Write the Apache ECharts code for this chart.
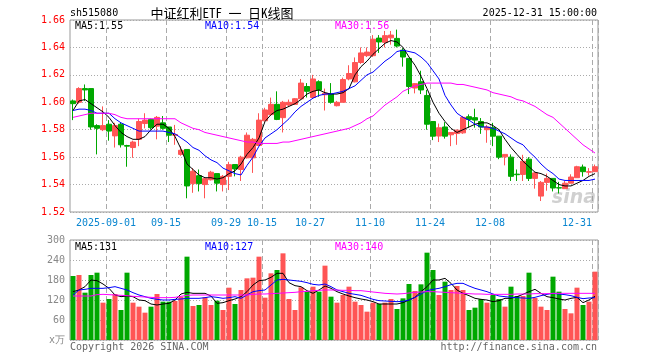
<!DOCTYPE html>
<html><head><meta charset="utf-8">
<script src="https://cdn.jsdelivr.net/npm/echarts@6/dist/echarts.min.js"></script>
<style>html,body{margin:0;padding:0;background:#fff}#c{width:660px;height:360px}</style>
</head><body><div id="c"></div>
<script>
const dates = ['2025-08-22','2025-08-25','2025-08-26','2025-08-27','2025-08-28','2025-08-29',
'2025-09-01','2025-09-02','2025-09-03','2025-09-04','2025-09-05','2025-09-08','2025-09-09','2025-09-10','2025-09-11','2025-09-12',
'2025-09-15','2025-09-16','2025-09-17','2025-09-18','2025-09-19','2025-09-22','2025-09-23','2025-09-24','2025-09-25','2025-09-26',
'2025-09-29','2025-09-30','2025-10-09','2025-10-10','2025-10-13','2025-10-14','2025-10-15','2025-10-16','2025-10-17',
'2025-10-20','2025-10-21','2025-10-22','2025-10-23','2025-10-24','2025-10-27','2025-10-28','2025-10-29','2025-10-30','2025-10-31',
'2025-11-03','2025-11-04','2025-11-05','2025-11-06','2025-11-07','2025-11-10','2025-11-11','2025-11-12','2025-11-13','2025-11-14',
'2025-11-17','2025-11-18','2025-11-19','2025-11-20','2025-11-21','2025-11-24','2025-11-25','2025-11-26','2025-11-27','2025-11-28',
'2025-12-01','2025-12-02','2025-12-03','2025-12-04','2025-12-05','2025-12-08','2025-12-09','2025-12-10','2025-12-11','2025-12-12',
'2025-12-15','2025-12-16','2025-12-17','2025-12-18','2025-12-19','2025-12-22','2025-12-23','2025-12-24','2025-12-25','2025-12-26',
'2025-12-29','2025-12-30','2025-12-31'];

const openP = [1.601,1.600,1.610,1.610,1.583,1.580,1.584,1.5755,1.584,1.5685,
1.567,1.573,1.5845,1.5875,1.5826,1.585,1.582,1.576,1.562,1.5656,
1.5407,1.5465,1.540,1.5435,1.548,1.540,1.546,1.5546,1.551,1.5595,
1.5595,1.5685,1.5865,1.591,1.5985,1.5888,1.598,1.5985,1.6025,1.6115,
1.6035,1.615,1.6055,1.606,1.5975,1.600,1.617,1.6149,1.629,1.634,
1.634,1.6468,1.6437,1.647,1.6466,1.638,1.632,1.6104,1.615,1.605,
1.586,1.5754,1.582,1.5763,1.5772,1.5777,1.5895,1.5888,1.586,1.580,
1.5815,1.5753,1.5602,1.560,1.5476,1.5474,1.5585,1.5445,1.5316,1.5416,
1.5445,1.5377,1.537,1.541,1.545,1.5528,1.549,1.5494];
const closeP = [1.599,1.610,1.609,1.582,1.581,1.583,1.579,1.583,1.569,1.568,
1.571,1.586,1.587,1.5815,1.589,1.581,1.576,1.5765,1.565,1.539,
1.5497,1.5407,1.5443,1.549,1.541,1.546,1.5545,1.5514,1.560,1.576,
1.573,1.587,1.5944,1.5985,1.5875,1.600,1.600,1.6026,1.614,1.608,
1.617,1.609,1.6066,1.600,1.600,1.6166,1.621,1.629,1.636,1.6366,
1.646,1.644,1.6486,1.649,1.641,1.633,1.6115,1.6136,1.609,1.584,
1.5753,1.5814,1.5753,1.578,1.5797,1.589,1.5875,1.587,1.582,1.582,
1.5753,1.560,1.562,1.546,1.5472,1.557,1.5445,1.5485,1.5416,1.5445,
1.5375,1.5375,1.541,1.5455,1.553,1.5494,1.5494,1.553];
const lowP = [1.587,1.599,1.601,1.580,1.562,1.579,1.572,1.567,1.567,1.553,
1.5595,1.568,1.581,1.580,1.573,1.580,1.571,1.569,1.561,1.530,
1.534,1.535,1.530,1.543,1.535,1.535,1.536,1.546,1.5426,1.559,
1.5485,1.568,1.586,1.590,1.587,1.578,1.597,1.598,1.602,1.6035,
1.603,1.604,1.594,1.599,1.597,1.600,1.616,1.6145,1.628,1.633,
1.633,1.636,1.640,1.642,1.640,1.626,1.606,1.6065,1.606,1.580,
1.5724,1.571,1.5735,1.568,1.569,1.577,1.5815,1.5815,1.577,1.5705,
1.568,1.5585,1.554,1.5426,1.5426,1.5426,1.5426,1.537,1.528,1.5355,
1.535,1.5335,1.537,1.541,1.545,1.5458,1.5466,1.5494];
const highP = [1.602,1.611,1.613,1.610,1.584,1.597,1.587,1.585,1.585,1.569,
1.572,1.588,1.592,1.588,1.590,1.590,1.582,1.5835,1.568,1.5656,
1.552,1.551,1.545,1.550,1.548,1.547,1.5566,1.5546,1.561,1.578,
1.574,1.592,1.596,1.6034,1.608,1.601,1.602,1.603,1.617,1.614,
1.620,1.616,1.610,1.614,1.601,1.618,1.627,1.6327,1.640,1.640,
1.649,1.649,1.652,1.652,1.653,1.6395,1.632,1.614,1.623,1.609,
1.586,1.5845,1.5855,1.578,1.580,1.590,1.5912,1.5953,1.5885,1.5835,
1.585,1.5753,1.562,1.562,1.551,1.5617,1.560,1.549,1.5426,1.548,
1.5445,1.542,1.5426,1.5475,1.5537,1.5546,1.552,1.5546];

const ma5 = [1.594,1.601,1.602,1.599,1.596,1.593,1.589,1.583,1.578,1.575,
1.573,1.573,1.575,1.580,1.584,1.584,1.581,1.575,1.566,1.555,
1.551,1.547,1.545,1.545,1.544,1.545,1.548,1.550,1.555,1.562,
1.567,1.574,1.586,1.591,1.594,1.595,1.597,1.599,1.602,1.606,
1.608,1.609,1.607,1.606,1.606,1.607,1.610,1.620,1.626,1.630,
1.635,1.639,1.643,1.645,1.644,1.640,1.633,1.627,1.619,1.610,
1.600,1.592,1.586,1.581,1.578,1.580,1.582,1.584,1.585,1.585,
1.583,1.580,1.573,1.567,1.562,1.557,1.553,1.549,1.548,1.546,
1.543,1.540,1.539,1.539,1.541,1.543,1.546,1.548];
const ma10 = [1.594,1.595,1.595,1.594,1.592,1.592,1.592,1.588,1.585,1.583,
1.581,1.579,1.579,1.579,1.579,1.579,1.578,1.577,1.574,1.571,
1.567,1.565,1.561,1.558,1.556,1.552,1.550,1.548,1.547,1.554,
1.560,1.568,1.574,1.577,1.580,1.584,1.588,1.593,1.597,1.600,
1.603,1.605,1.606,1.606,1.607,1.608,1.610,1.612,1.616,1.620,
1.622,1.626,1.630,1.633,1.637,1.638,1.637,1.636,1.633,1.629,
1.623,1.617,1.605,1.598,1.592,1.589,1.587,1.584,1.582,1.582,
1.581,1.579,1.577,1.574,1.571,1.569,1.564,1.560,1.555,1.551,
1.548,1.544,1.543,1.543,1.543,1.543,1.543,1.544];
const ma30 = [1.589,1.590,1.591,1.592,1.592,1.592,1.592,1.591,1.589,1.588,
1.588,1.588,1.588,1.588,1.588,1.588,1.588,1.588,1.585,1.583,
1.581,1.580,1.578,1.577,1.576,1.575,1.574,1.573,1.572,1.571,
1.571,1.570,1.570,1.570,1.570,1.571,1.571,1.572,1.573,1.574,
1.575,1.576,1.577,1.578,1.579,1.580,1.581,1.583,1.585,1.588,
1.590,1.594,1.598,1.601,1.604,1.608,1.610,1.612,1.613,1.614,
1.614,1.614,1.614,1.614,1.613,1.613,1.612,1.611,1.610,1.609,
1.607,1.606,1.605,1.604,1.602,1.601,1.599,1.597,1.594,1.591,
1.589,1.585,1.581,1.577,1.573,1.569,1.566,1.563];

const volume = [192,195,142,195,202,112,123,138,90,202,
112,100,82,100,138,115,115,117,130,250,
102,105,128,105,118,90,157,108,150,185,
187,250,127,200,210,260,123,90,158,145,
160,145,223,130,112,135,160,115,105,85,
112,108,112,123,93,125,168,147,167,262,
210,135,175,150,162,150,90,97,123,112,
137,123,100,160,132,132,202,126,100,90,
190,145,93,80,157,105,115,205];
const vma5 = [145,150,160,180,178,168,155,135,130,132,
130,120,118,108,105,108,110,120,138,143,
140,140,140,132,110,112,118,123,130,145,
165,178,180,188,200,200,172,163,160,148,
140,150,162,155,145,138,132,127,123,120,
115,108,108,108,108,112,120,128,145,160,
180,180,185,170,150,140,133,125,122,120,
115,118,125,125,130,137,145,152,140,130,
127,123,120,125,128,112,120,131];
const vma10 = [135,150,152,155,155,155,157,160,155,150,
142,135,130,125,122,120,120,122,123,125,
125,125,127,130,128,125,127,130,125,135,
145,148,150,165,180,182,180,178,176,172,
167,165,168,160,150,145,140,137,134,128,
122,118,117,116,115,116,120,128,138,148,
152,155,160,166,170,170,162,155,150,145,
138,132,130,128,127,126,125,128,133,137,
140,138,136,133,128,124,126,127];
const vma30 = [132,132,132,132,136,137,136,135,134,133,
131,130,129,128,127,127,127,128,131,134,
135,135,135,135,135,135,135,135,135,135,
137,138,138,139,140,141,142,143,145,146,
148,149,150,150,150,149,149,148,148,146,
144,142,140,139,138,139,141,143,144,145,
145,144,143,142,141,140,139,138,138,137,
137,137,137,137,138,138,138,139,139,139,
140,140,140,140,140,140,140,140];

const tickDates = ['2025-09-01','2025-09-15','2025-09-29','2025-10-15','2025-10-27','2025-11-10','2025-11-24','2025-12-08','2025-12-31'];
const tickLabels = ['2025-09-01','09-15','09-29','10-15','10-27','11-10','11-24','12-08','12-31'];
const priceTicks = {min:1.52, max:1.66, step:0.02};
const volTicks = {min:0, max:300, step:60};

const UP = '#ff5555', DOWN = '#00a800';
const MONO = '"DejaVu Sans Mono", "Liberation Mono", monospace';

const kData = dates.map((d,i)=>[openP[i], closeP[i], lowP[i], highP[i]]);
const volData = volume.map((v,i)=>({value:v, itemStyle:{color: closeP[i] >= openP[i] ? UP : DOWN}}));
const isTick = (idx, val) => tickDates.indexOf(val) >= 0;
const last = a => a[a.length-1];

const chart = echarts.init(document.getElementById('c'), null, {renderer:'canvas'});
const grids = [
  {left:70, top:20, width:528, height:192, show:true, borderColor:'#999', borderWidth:1, backgroundColor:'transparent'},
  {left:70, top:240, width:528, height:100, show:true, borderColor:'#999', borderWidth:1, backgroundColor:'transparent'}
];
function xAx(gi, showLabel){
  return {type:'category', gridIndex:gi, data:dates, boundaryGap:true,
    axisLine:{show:false}, axisTick:{show:false},
    axisLabel:{show:showLabel, interval:isTick, margin:6,
      formatter:(val)=>{const k=tickDates.indexOf(val); const t=tickLabels[k]; return k===tickDates.length-1 ? '{b|'+t+'}' : '{a|'+t+'}';},
      rich:{a:{color:'#0a86d0', fontFamily:MONO, fontSize:10, padding:[0,6,0,0]},
            b:{color:'#0a86d0', fontFamily:MONO, fontSize:10, padding:[0,36,0,0]}}},
    splitLine:{show:true, interval:isTick, lineStyle:{color:'#aaa', type:[5,3], width:1}}};
}
function yAx(gi, t, color, fmt){
  return {type:'value', gridIndex:gi, min:t.min, max:t.max, interval:t.step, scale:true,
    axisLine:{show:false}, axisTick:{show:false},
    axisLabel:{color:color, fontFamily:MONO, fontSize:10, margin:5, formatter:fmt},
    splitLine:{show:true, lineStyle:{color:'#aaa', type:[1,2], width:1}}};
}
function line(name, data, color, xi){
  return {name, type:'line', xAxisIndex:xi, yAxisIndex:xi, data, symbol:'none', smooth:false,
    lineStyle:{color, width:1}, itemStyle:{color}, z:5, silent:true};
}
function txt(x,y,text,fill,font,align){
  return {type:'text', x, y, z:50, style:{text, fill, font, align:align||'left', verticalAlign:'middle'}};
}
const f10 = '10px ' + MONO;
chart.setOption({
  animation:false,
  backgroundColor:'#fff',
  grid:grids,
  xAxis:[xAx(0,true), xAx(1,false)],
  yAxis:[yAx(0, priceTicks, '#ff0000', v=>v.toFixed(2)), yAx(1, volTicks, '#888', v=> v===0 ? 'x万' : String(v))],
  series:[
    {type:'candlestick', xAxisIndex:0, yAxisIndex:0, data:kData, barWidth:5,
      itemStyle:{color:UP, color0:DOWN, borderColor:UP, borderColor0:DOWN, borderWidth:1}, z:3},
    line('MA5', ma5, '#000', 0), line('MA10', ma10, '#0000ff', 0), line('MA30', ma30, '#ff00ff', 0),
    {type:'bar', xAxisIndex:1, yAxisIndex:1, data:volData, barWidth:5, z:3},
    line('VMA5', vma5, '#000', 1), line('VMA10', vma10, '#0000ff', 1), line('VMA30', vma30, '#ff00ff', 1)
  ],
  graphic:[
    txt(70,13,'sh515080','#000',f10),
    txt(222,13,'中证红利ETF 一 日K线图','#000','13px "Noto Sans Mono CJK SC", "Noto Sans CJK SC"','center'),
    txt(597,13,'2025-12-31 15:00:00','#000',f10,'right'),
    txt(75,26,'MA5:'+last(ma5).toFixed(2),'#000',f10),
    txt(205,26,'MA10:'+last(ma10).toFixed(2),'#0000ff',f10),
    txt(335,26,'MA30:'+last(ma30).toFixed(2),'#ff00ff',f10),
    txt(75,247,'MA5:'+last(vma5),'#000',f10),
    txt(205,247,'MA10:'+last(vma10),'#0000ff',f10),
    txt(335,247,'MA30:'+last(vma30),'#ff00ff',f10),
    txt(70,347,'Copyright 2026 SINA.COM','#666',f10),
    txt(597,347,'http://finance.sina.com.cn','#666',f10,'right'),
    {type:'text', x:596, y:198, z:1, style:{text:'sina', fill:'rgba(150,150,150,0.45)', font:'italic bold 19px "DejaVu Sans"', align:'right', verticalAlign:'middle'}}
  ]
});
</script></body></html>
